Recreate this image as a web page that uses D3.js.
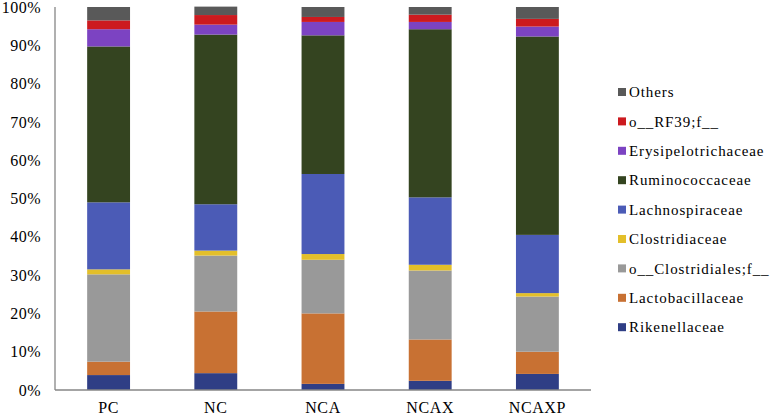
<!DOCTYPE html>
<html>
<head>
<meta charset="utf-8">
<script src="https://cdn.jsdelivr.net/npm/d3@7"></script>
<style>
  body { margin: 0; background: #fff; }
</style>
</head>
<body>
<svg id="chart" width="774" height="417"></svg>
<script>
    // groups along the x axis
    const groups = ["PC", "NC", "NCA", "NCAX", "NCAXP"];

    // families, stacked from the bottom up
    const families = ["Rikenellaceae", "Lactobacillaceae", "o__Clostridiales;f__", "Clostridiaceae",
        "Lachnospiraceae", "Ruminococcaceae", "Erysipelotrichaceae", "o__RF39;f__", "Others"];

    const colors = ["#2f3e85", "#c87133", "#999999", "#e3bf2a",
        "#4b5bb6", "#344420", "#7c43c2", "#cc1a1f", "#595959"];

    // relative abundance (%) per group, same order as families
    const rikenellaceae     = [3.9, 4.4, 1.6, 2.4, 4.2];
    const lactobacillaceae  = [3.5, 16.1, 18.4, 10.8, 5.8];
    const clostridiales     = [22.8, 14.6, 14.0, 18.0, 14.4];
    const clostridiaceae    = [1.3, 1.3, 1.5, 1.5, 0.9];
    const lachnospiraceae   = [17.5, 12.1, 20.9, 17.6, 15.2];
    const ruminococcaceae   = [40.7, 44.3, 36.2, 43.9, 51.8];
    const erysipelotrichaceae = [4.5, 2.6, 3.5, 1.9, 2.6];
    const rf39              = [2.3, 2.5, 1.3, 1.9, 2.0];
    const others            = [3.5, 2.2, 2.6, 2.0, 3.1];

    const yTicks = ["0%", "10%", "20%", "30%", "40%", "50%", "60%", "70%", "80%", "90%", "100%"];

    const series = [rikenellaceae, lactobacillaceae, clostridiales, clostridiaceae,
        lachnospiraceae, ruminococcaceae, erysipelotrichaceae, rf39, others];

    const rows = groups.map((g, i) => {
        const r = { group: g };
        families.forEach((f, j) => r[f] = series[j][i]);
        return r;
    });

    const padL = 55, padR = 591, padT = 7, padB = 390;
    const serif = "'Liberation Serif', 'Times New Roman', 'DejaVu Serif', serif";

    const svg = d3.select("#chart");

    const x = d3.scaleBand()
        .domain(groups)
        .range([padL, padR])
        .paddingInner(0.6)
        .paddingOuter(0.3);

    const y = d3.scaleLinear()
        .domain([0, 100])
        .range([padB, padT]);

    const stack = d3.stack().keys(families);
    const stacked = stack(rows);

    svg.append("g")
        .selectAll("g")
        .data(stacked)
        .join("g")
            .attr("fill", (d, i) => colors[i])
        .selectAll("rect")
        .data(d => d)
        .join("rect")
            .attr("x", d => x(d.data.group))
            .attr("y", d => y(d[1]))
            .attr("width", x.bandwidth())
            .attr("height", d => y(d[0]) - y(d[1]));

    // y axis labels
    svg.append("g")
        .selectAll("text")
        .data(yTicks)
        .join("text")
            .attr("x", 41)
            .attr("y", (d, i) => y(i * 10))
            .attr("dy", "0.35em")
            .attr("text-anchor", "end")
            .attr("font-family", serif)
            .attr("font-size", 16)
            .attr("letter-spacing", 0.5)
            .text(d => d);

    // axis lines
    svg.append("line")
        .attr("x1", padL).attr("x2", padL)
        .attr("y1", y(100)).attr("y2", y(0))
        .attr("stroke", "#868686").attr("stroke-width", 1.3);
    svg.append("line")
        .attr("x1", padL).attr("x2", padR)
        .attr("y1", y(0)).attr("y2", y(0))
        .attr("stroke", "#868686").attr("stroke-width", 1.3);

    // x labels
    svg.append("g")
        .selectAll("text")
        .data(groups)
        .join("text")
            .attr("x", d => x(d) + x.bandwidth() / 2)
            .attr("y", 413)
            .attr("text-anchor", "middle")
            .attr("font-family", serif)
            .attr("font-size", 16)
            .attr("letter-spacing", 0.6)
            .text(d => d);

    // legend, top entry = last family
    const legend = svg.append("g")
        .selectAll("g")
        .data(families.slice().reverse())
        .join("g")
            .attr("transform", (d, i) => "translate(618," + (92 + i * 29.4) + ")");

    legend.append("rect")
        .attr("x", 0).attr("y", -4)
        .attr("width", 8).attr("height", 8)
        .attr("fill", d => colors[families.indexOf(d)]);

    legend.append("text")
        .attr("x", 11)
        .attr("dy", "0.35em")
        .attr("font-family", serif)
        .attr("font-size", 15)
        .attr("letter-spacing", 0.9)
        .text(d => d);
</script>
</body>
</html>
